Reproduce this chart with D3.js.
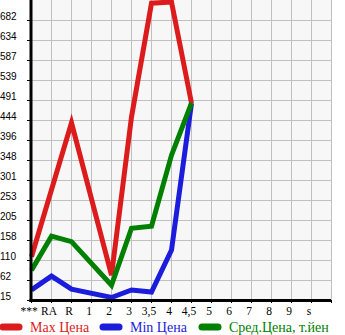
<!DOCTYPE html>
<html>
<head>
<meta charset="utf-8">
<script src="https://cdn.jsdelivr.net/npm/d3@7"></script>
<style>
  body { margin: 0; background: #fff; }
  svg { display: block; }
  .tick-y { font-family: "Liberation Sans", Arial, sans-serif; font-size: 10px; }
  .tick-x { font-family: "Liberation Serif", "Times New Roman", serif; font-size: 11.5px; }
  .legend { font-family: "Liberation Serif", "Times New Roman", serif; font-size: 14px; }
</style>
</head>
<body>
<svg id="chart" width="345" height="335"></svg>
<script>
var width = 345,
    height = 335,
    margin = {top: 0, right: 14, bottom: 35, left: 31}

// categorias e valores (null = sem dado)
var categorias = ["***", "RA", "R", "1", "2", "3", "3,5", "4", "4,5", "5", "6", "7", "8", "9", "s"]
var maxPreco = [118, null, 437, null, 74, 451, 722, 725, 484, null, null, null, null, null, null]
var minPreco = [39, 72, 41, null, 21, 39, 34, 134, 484, null, null, null, null, null, null]
var medPreco = [86, 167, 154, null, 50, 186, 191, 360, 484, null, null, null, null, null, null]
var ticksY = ["15", "62", "110", "158", "205", "253", "301", "348", "396", "444", "491", "539", "587", "634", "682"]

var series = [
  {nome: "Max Цена", valores: maxPreco, cor: "#dc1c1c"},
  {nome: "Min Цена", valores: minPreco, cor: "#1c1cdc"},
  {nome: "Сред.Цена, т.йен", valores: medPreco, cor: "#008000"}
]

var svg = d3.select("#chart")
var plotW = 300, plotH = 300

var x = d3.scalePoint()
    .domain(categorias)
    .range([margin.left, margin.left + plotW - 20])

var passo = (682 - 15) / 14
var y = d3.scaleLinear()
    .domain([15, 15 + passo * 15])
    .range([margin.top + plotH, margin.top])

// fundo
svg.append("rect")
    .attr("x", margin.left)
    .attr("y", margin.top)
    .attr("width", plotW)
    .attr("height", plotH)
    .attr("fill", "#f7f7f7")

// grade vertical
svg.selectAll(".gv")
    .data(categorias.concat(["_fim"]))
  .enter().append("line")
    .attr("x1", function(d, i) { return margin.left + i * 20 + 0.5 })
    .attr("x2", function(d, i) { return margin.left + i * 20 + 0.5 })
    .attr("y1", margin.top)
    .attr("y2", margin.top + plotH)
    .attr("stroke", "#c0c0c0")
    .attr("stroke-width", 1)

// grade horizontal
svg.selectAll(".gh")
    .data(ticksY)
  .enter().append("line")
    .attr("x1", margin.left)
    .attr("x2", margin.left + plotW)
    .attr("y1", function(d) { return Math.round(y(+d)) + 0.5 })
    .attr("y2", function(d) { return Math.round(y(+d)) + 0.5 })
    .attr("stroke", "#c0c0c0")
    .attr("stroke-width", 1)

// linhas das séries
var linha = d3.line()
    .x(function(d) { return x(d.cat) + 0.5 })
    .y(function(d) { return y(d.v) })

series.forEach(function(s) {
  var pontos = categorias.map(function(c, i) { return {cat: c, v: s.valores[i]} })
      .filter(function(d) { return d.v != null })
  svg.append("path")
      .datum(pontos)
      .attr("d", linha)
      .attr("fill", "none")
      .attr("stroke", s.cor)
      .attr("stroke-width", 5)
})

// eixos
svg.append("line")
    .attr("x1", margin.left).attr("x2", margin.left)
    .attr("y1", margin.top).attr("y2", margin.top + plotH + 2)
    .attr("stroke", "#000").attr("stroke-width", 3)
svg.append("line")
    .attr("x1", margin.left - 1.5).attr("x2", margin.left + plotW)
    .attr("y1", margin.top + plotH + 0.5).attr("y2", margin.top + plotH + 0.5)
    .attr("stroke", "#000").attr("stroke-width", 3)

// marcas do eixo y
svg.selectAll(".ty")
    .data(ticksY)
  .enter().append("line")
    .attr("x1", margin.left - 4)
    .attr("x2", margin.left)
    .attr("y1", function(d) { return Math.round(y(+d)) + 0.5 })
    .attr("y2", function(d) { return Math.round(y(+d)) + 0.5 })
    .attr("stroke", "#000")

svg.selectAll(".ly")
    .data(ticksY)
  .enter().append("text")
    .attr("class", "tick-y")
    .attr("x", 0)
    .attr("y", function(d) { return Math.round(y(+d)) - 0.5 })
    .text(function(d) { return d })

// marcas do eixo x
svg.selectAll(".tx")
    .data(categorias.concat(["_fim"]))
  .enter().append("line")
    .attr("x1", function(d, i) { return margin.left + i * 20 + 0.5 })
    .attr("x2", function(d, i) { return margin.left + i * 20 + 0.5 })
    .attr("y1", margin.top + plotH)
    .attr("y2", margin.top + plotH + 3)
    .attr("stroke", "#000")

svg.selectAll(".lx")
    .data(categorias)
  .enter().append("text")
    .attr("class", "tick-x")
    .attr("x", function(d) { return x(d) - 2 })
    .attr("y", margin.top + plotH + 15)
    .attr("text-anchor", "middle")
    .text(function(d) { return d })

// legenda
var legX = [0, 100, 199]
var leg = svg.selectAll(".leg")
    .data(series)
  .enter().append("g")
    .attr("transform", function(d, i) { return "translate(" + legX[i] + ",327)" })

leg.append("line")
    .attr("x1", 3).attr("x2", 19)
    .attr("y1", 0).attr("y2", 0)
    .attr("stroke", function(d) { return d.cor })
    .attr("stroke-width", 7)
    .attr("stroke-linecap", "round")

leg.append("text")
    .attr("class", "legend")
    .attr("x", 30)
    .attr("y", 5)
    .attr("fill", function(d) { return d.cor })
    .text(function(d) { return d.nome })
</script>
</body>
</html>
